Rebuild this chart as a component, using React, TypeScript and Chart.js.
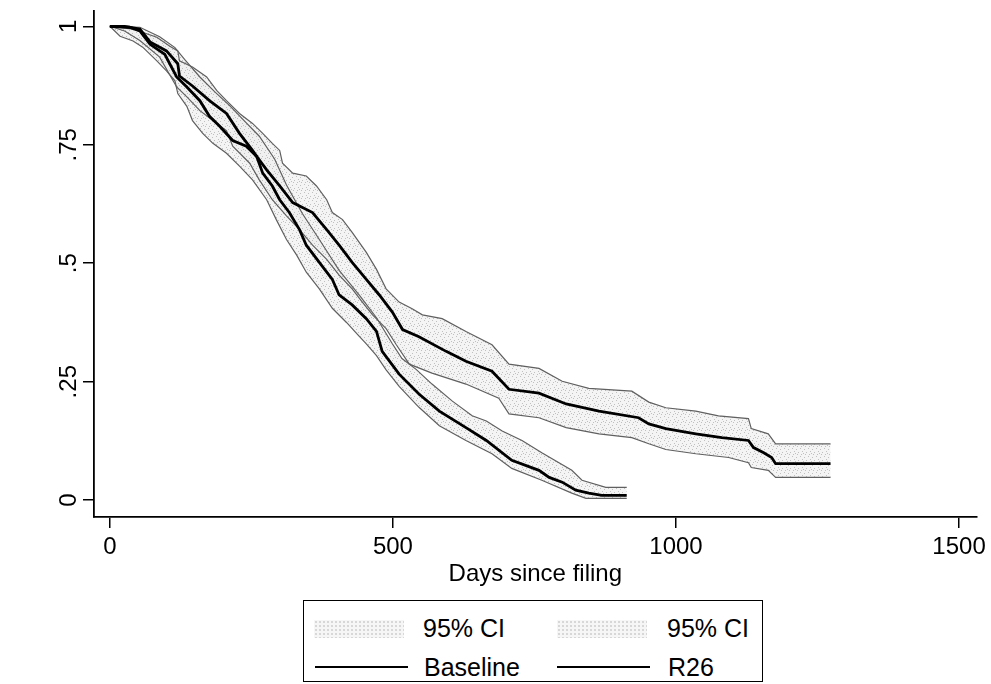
import React, { useEffect, useRef } from "react";
import { Chart, registerables } from "chart.js";

Chart.register(...registerables);

type Pt = [number, number];

// ---- axis / text content ----
const xTickValues = [0, 500, 1000, 1500];
const yTickValues = [0, 0.25, 0.5, 0.75, 1];
const yTickLabels = ["0", ".25", ".5", ".75", "1"];
const xAxisTitle = "Days since filing";
const ciLabel = "95% CI";
const baselineLabel = "Baseline";
const r26Label = "R26";

// ---- Kaplan-Meier estimates: [days since filing, survival] ----
const baselineSurvival: Pt[] = [
  [0, 1], [26, 1], [53, 0.994], [71, 0.967], [100, 0.948], [120, 0.921], [123, 0.895],
  [146, 0.874], [176, 0.843], [206, 0.816], [229, 0.774], [252, 0.738], [259, 0.726],
  [277, 0.697], [300, 0.663], [323, 0.628], [358, 0.607], [383, 0.571], [405, 0.538],
  [428, 0.502], [453, 0.466], [476, 0.433], [499, 0.397], [517, 0.36], [546, 0.345],
  [594, 0.314], [629, 0.293], [675, 0.272], [705, 0.234], [758, 0.226], [806, 0.203],
  [864, 0.188], [934, 0.174], [952, 0.161], [982, 0.151], [1035, 0.14], [1081, 0.132],
  [1128, 0.126], [1137, 0.111], [1155, 0.1], [1169, 0.09], [1176, 0.077], [1273, 0.077],
];
const baselineCiUpper: Pt[] = [
  [0, 1], [41, 0.994], [83, 0.977], [106, 0.958], [120, 0.948], [123, 0.927], [146, 0.914],
  [171, 0.893], [189, 0.864], [206, 0.843], [229, 0.816], [252, 0.795], [270, 0.774],
  [287, 0.753], [300, 0.738], [305, 0.711], [323, 0.69], [347, 0.684], [365, 0.663],
  [383, 0.634], [393, 0.607], [411, 0.592], [428, 0.565], [453, 0.523], [471, 0.487],
  [488, 0.446], [511, 0.418], [534, 0.404], [552, 0.391], [587, 0.383], [629, 0.356],
  [675, 0.328], [705, 0.287], [758, 0.278], [799, 0.251], [846, 0.236], [922, 0.23],
  [952, 0.207], [982, 0.195], [1035, 0.188], [1075, 0.178], [1128, 0.172], [1133, 0.151],
  [1163, 0.14], [1176, 0.119], [1273, 0.119],
];
const baselineCiLower: Pt[] = [
  [0, 1], [26, 0.99], [53, 0.97], [88, 0.935], [118, 0.872], [136, 0.851], [159, 0.822],
  [182, 0.801], [206, 0.78], [217, 0.747], [247, 0.711], [264, 0.676], [287, 0.634],
  [312, 0.6], [335, 0.571], [358, 0.538], [383, 0.508], [405, 0.475], [428, 0.446],
  [446, 0.418], [464, 0.391], [488, 0.362], [506, 0.328], [529, 0.287], [569, 0.268],
  [629, 0.245], [687, 0.215], [705, 0.182], [758, 0.174], [806, 0.153], [864, 0.14],
  [922, 0.132], [952, 0.119], [982, 0.107], [1035, 0.098], [1093, 0.09], [1128, 0.079],
  [1133, 0.069], [1163, 0.063], [1176, 0.048], [1273, 0.048],
];
const r26Survival: Pt[] = [
  [0, 1], [35, 0.998], [53, 0.99], [71, 0.962], [97, 0.941], [118, 0.893], [136, 0.872],
  [159, 0.843], [176, 0.81], [194, 0.789], [217, 0.759], [241, 0.747], [259, 0.726],
  [270, 0.69], [287, 0.663], [300, 0.634], [317, 0.607], [335, 0.571], [347, 0.538],
  [370, 0.502], [393, 0.466], [405, 0.433], [428, 0.412], [453, 0.383], [471, 0.356],
  [481, 0.314], [511, 0.266], [546, 0.224], [582, 0.188], [629, 0.153], [665, 0.126],
  [710, 0.084], [758, 0.063], [776, 0.048], [799, 0.038], [823, 0.021], [846, 0.015],
  [869, 0.01], [913, 0.01],
];
const r26CiUpper: Pt[] = [
  [0, 1], [53, 0.998], [88, 0.978], [115, 0.955], [132, 0.93], [159, 0.893], [185, 0.862],
  [212, 0.832], [238, 0.8], [264, 0.768], [291, 0.72], [312, 0.665], [340, 0.605],
  [370, 0.55], [405, 0.485], [441, 0.432], [471, 0.385], [499, 0.33], [516, 0.299],
  [541, 0.276], [569, 0.245], [605, 0.209], [640, 0.178], [665, 0.167], [693, 0.146],
  [728, 0.126], [763, 0.1], [816, 0.063], [834, 0.042], [876, 0.027], [913, 0.027],
];
const r26CiLower: Pt[] = [
  [0, 1], [18, 0.979], [41, 0.969], [58, 0.956], [83, 0.927], [100, 0.906], [115, 0.885],
  [120, 0.858], [136, 0.831], [146, 0.801], [164, 0.774], [182, 0.753], [206, 0.732],
  [229, 0.705], [252, 0.676], [277, 0.634], [294, 0.592], [312, 0.55], [330, 0.517],
  [347, 0.481], [370, 0.446], [393, 0.405], [418, 0.375], [441, 0.345], [453, 0.33],
  [471, 0.305], [488, 0.275], [511, 0.24], [546, 0.196], [582, 0.157], [629, 0.126],
  [675, 0.098], [710, 0.067], [763, 0.042], [816, 0.015], [841, 0.004], [913, 0.004],
];

const FONT = "'Liberation Sans', Arial, Helvetica, sans-serif";
const toXY = (a: Pt[]) => a.map(([x, y]) => ({ x, y }));

// fixed (non-random) speckle tile used for the confidence bands
const speckleDots: [number, number][] = [[0, 0], [4, 1], [2, 3], [6, 4], [1, 6], [5, 6], [3, 5]];

function makeSpeckle(ctx: CanvasRenderingContext2D): CanvasPattern | string {
  const tile = document.createElement("canvas");
  tile.width = 8;
  tile.height = 8;
  const g = tile.getContext("2d");
  if (!g) return "#f2f2f2";
  g.fillStyle = "rgba(236,236,236,0.6)";
  g.fillRect(0, 0, 8, 8);
  g.fillStyle = "#c0c0c0";
  speckleDots.forEach(([x, y]) => g.fillRect(x, y, 1, 1));
  return ctx.createPattern(tile, "repeat") || "#f2f2f2";
}

const speckleCss = {
  backgroundColor: "#f6f6f6",
  backgroundImage: "radial-gradient(circle, #c6c6c6 0.6px, transparent 0.9px)",
  backgroundSize: "4px 4px",
};

export default function App() {
  const ref = useRef<HTMLCanvasElement | null>(null);

  useEffect(() => {
    const canvas = ref.current;
    if (!canvas) return;
    const ctx = canvas.getContext("2d");
    if (!ctx) return;
    const speckle = makeSpeckle(ctx);
    const ciStyle = {
      borderColor: "#606060",
      borderWidth: 1.2,
      pointRadius: 0,
      tension: 0,
      order: 2,
    };
    const mainStyle = {
      borderColor: "#000000",
      borderWidth: 2.8,
      pointRadius: 0,
      tension: 0,
      fill: false,
      order: 0,
    };
    const tickFont = { family: FONT, size: 24 };

    const chart = new Chart(ctx, {
      type: "line",
      data: {
        datasets: [
          { label: "Baseline 95% CI upper", data: toXY(baselineCiUpper), ...ciStyle, fill: "+1", backgroundColor: speckle },
          { label: "Baseline 95% CI lower", data: toXY(baselineCiLower), ...ciStyle, fill: false },
          { label: "R26 95% CI upper", data: toXY(r26CiUpper), ...ciStyle, fill: "+1", backgroundColor: speckle },
          { label: "R26 95% CI lower", data: toXY(r26CiLower), ...ciStyle, fill: false },
          { label: baselineLabel, data: toXY(baselineSurvival), ...mainStyle },
          { label: r26Label, data: toXY(r26Survival), ...mainStyle },
        ] as any,
      },
      options: {
        animation: false,
        responsive: false,
        maintainAspectRatio: false,
        events: [],
        layout: { padding: { top: 7, right: 13, left: 0, bottom: 95 } },
        plugins: {
          legend: { display: false },
          tooltip: { enabled: false },
          filler: { drawTime: "beforeDatasetsDraw", propagate: false },
        } as any,
        scales: {
          x: {
            type: "linear",
            min: -28,
            max: 1531,
            afterBuildTicks: (s: any) => {
              s.ticks = xTickValues.map((v) => ({ value: v }));
            },
            afterFit: (s: any) => {
              s.height = 72;
            },
            grid: { drawOnChartArea: false, drawTicks: true, tickLength: 11, color: "#000", lineWidth: 1.5 },
            border: { display: true, color: "#000", width: 1.8 },
            ticks: {
              color: "#000",
              font: tickFont,
              padding: 5,
              maxRotation: 0,
              minRotation: 0,
              autoSkip: false,
              callback: (v: any) => String(v),
            },
            title: { display: true, text: xAxisTitle, color: "#000", font: tickFont, padding: { top: 0, bottom: 0 } },
          },
          y: {
            type: "linear",
            min: -0.0355,
            max: 1.0314,
            afterBuildTicks: (s: any) => {
              s.ticks = yTickValues.map((v) => ({ value: v }));
            },
            afterFit: (s: any) => {
              s.width = 94;
            },
            grid: { drawOnChartArea: false, drawTicks: true, tickLength: 11, color: "#000", lineWidth: 1.5 },
            border: { display: true, color: "#000", width: 1.8 },
            ticks: {
              color: "#000",
              font: tickFont,
              padding: -3,
              minRotation: 90,
              maxRotation: 90,
              crossAlign: "center",
              autoSkip: false,
              callback: (v: any) => {
                const i = yTickValues.indexOf(Number(v));
                return i >= 0 ? yTickLabels[i] : "";
              },
            },
          },
        },
      } as any,
    });
    return () => chart.destroy();
  }, []);

  const text: React.CSSProperties = {
    position: "absolute",
    fontFamily: FONT,
    fontSize: 25,
    lineHeight: "28px",
    color: "#000",
    whiteSpace: "nowrap",
  };
  const line: React.CSSProperties = { position: "absolute", height: 2, background: "#000", width: 93 };
  const swatch: React.CSSProperties = { position: "absolute", width: 90, height: 18, ...speckleCss };

  return (
    <div style={{ position: "fixed", left: 0, top: 0, width: 991, height: 684, background: "#fff", overflow: "hidden" }}>
      <canvas ref={ref} width={991} height={684} style={{ position: "absolute", left: 0, top: 0 }} />
      <div
        style={{
          position: "absolute",
          left: 303,
          top: 600,
          width: 460,
          height: 82,
          border: "1px solid #000",
          boxSizing: "border-box",
          background: "#fff",
        }}
      >
        <div style={{ ...swatch, left: 10, top: 19 }} />
        <div style={{ ...text, left: 119, top: 13 }}>{ciLabel}</div>
        <div style={{ ...swatch, left: 253, top: 19 }} />
        <div style={{ ...text, left: 363, top: 13 }}>{ciLabel}</div>
        <div style={{ ...line, left: 11, top: 65 }} />
        <div style={{ ...text, left: 120, top: 52 }}>{baselineLabel}</div>
        <div style={{ ...line, left: 253, top: 65 }} />
        <div style={{ ...text, left: 364, top: 52 }}>{r26Label}</div>
      </div>
    </div>
  );
}
